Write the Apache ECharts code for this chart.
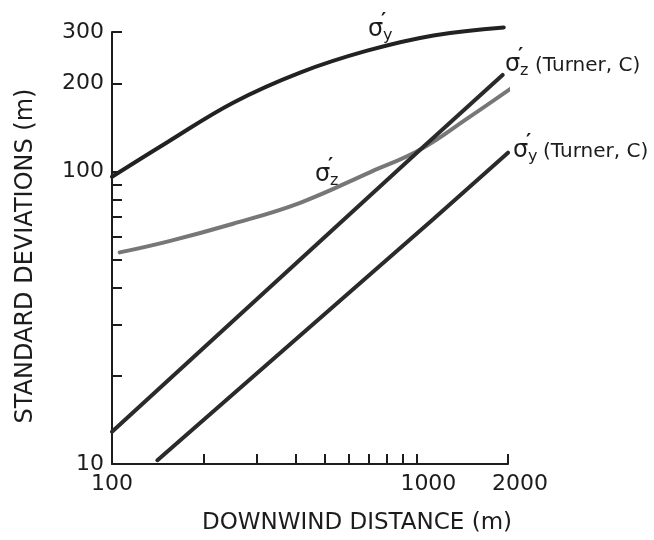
<!DOCTYPE html>
<html>
<head>
<meta charset="utf-8">
<script src="https://cdn.jsdelivr.net/npm/echarts@6/dist/echarts.min.js"></script>
<style>
  html, body { margin: 0; padding: 0; background: #fff; }
  #main { width: 654px; height: 540px; }
</style>
</head>
<body>
<div id="main"></div>
<script>
// sigma'y (upper curve)
const sigYx = [100, 152, 250, 415, 689, 1138, 1937];
const sigYy = [96, 126, 172, 218, 259, 292, 311];
// sigma'z (curve starting near 50)
const sigZx = [106, 152, 250, 415, 706, 1031, 1472, 2069];
const sigZy = [52.9, 57.6, 66.3, 78.2, 99.6, 119, 152, 194];
// sigma'z (Turner, C)
const turnZx = [100, 1031, 1920];
const turnZy = [12.9, 119, 214];
// sigma'y (Turner, C)
const turnYx = [141, 1138, 2000];
const turnYy = [10.3, 68.8, 116];

const xLabelVals = [100, 1000, 2000];
const xTickVals = [200, 300, 400, 500, 600, 700, 800, 900, 1000, 2000];
const yLabelVals = [10, 100, 200, 300];
const yTickVals = [20, 30, 40, 50, 60, 70, 80, 90, 100, 200, 300];

const ink = '#1c1c1c';
const font = 'DejaVu Sans';

function pairs(xs, ys) {
  return xs.map((x, i) => [x, ys[i]]);
}

// sigma with prime and subscript, optional tail text
function sigmaText(left, mid, sub, tail) {
  const kids = [
    { type: 'text', x: 0, y: 0, style: { text: 'σ', fontSize: 24, fontFamily: font, fill: ink, align: 'left', verticalAlign: 'middle' } },
    { type: 'text', x: 13, y: -9, style: { text: '′', fontSize: 20, fontWeight: 'bold', fontFamily: font, fill: ink, align: 'left', verticalAlign: 'middle' } },
    { type: 'text', x: 15, y: 6, style: { text: sub, fontSize: 16, fontFamily: font, fill: ink, align: 'left', verticalAlign: 'middle' } }
  ];
  if (tail) {
    kids.push({ type: 'text', x: 30, y: 1, style: { text: tail, fontSize: 20, fontFamily: font, fill: ink, align: 'left', verticalAlign: 'middle' } });
  }
  return { type: 'group', x: left, y: mid, children: kids };
}

const myChart = echarts.init(document.getElementById('main'));

const lineBase = {
  type: 'line',
  symbol: 'none',
  clip: false,
  silent: true
};

const option = {
  backgroundColor: '#fff',
  animation: false,
  grid: { left: 112, right: 146, top: 32, bottom: 73 },
  xAxis: {
    type: 'log',
    logBase: 10,
    min: 100,
    max: 2000,
    name: 'DOWNWIND DISTANCE (m)',
    nameLocation: 'middle',
    nameGap: 48,
    nameTextStyle: { fontSize: 23, fontFamily: font, color: ink, padding: [0, 0, 0, 94] },
    axisLine: { lineStyle: { color: ink, width: 2 } },
    axisTick: { inside: true, length: 10, customValues: xTickVals, lineStyle: { color: ink, width: 2 } },
    minorTick: { show: false },
    axisLabel: {
      customValues: xLabelVals,
      fontSize: 22,
      fontFamily: font,
      color: ink,
      margin: 9,
      formatter: v => (v === 100 ? '100' : '{r|' + v + '}'),
      rich: { r: { fontSize: 22, fontFamily: font, color: ink, padding: [0, 0, 0, 24] } }
    },
    splitLine: { show: false }
  },
  yAxis: {
    type: 'log',
    logBase: 10,
    min: 10,
    max: 300,
    name: 'STANDARD DEVIATIONS (m)',
    nameLocation: 'middle',
    nameGap: 74,
    nameTextStyle: { fontSize: 24, fontFamily: font, color: ink, padding: [0, 16, 0, 0] },
    axisLine: { lineStyle: { color: ink, width: 2 } },
    axisTick: { inside: true, length: 10, customValues: yTickVals, lineStyle: { color: ink, width: 2 } },
    axisLabel: { customValues: yLabelVals, fontSize: 22, fontFamily: font, color: ink, margin: 8 },
    splitLine: { show: false }
  },
  graphic: [
    sigmaText(368, 30, 'y'),
    sigmaText(315, 175, 'z'),
    sigmaText(505, 65, 'z', '(Turner, C)'),
    sigmaText(513, 151, 'y', '(Turner, C)')
  ],
  series: [
    Object.assign({}, lineBase, { name: "σ'y", smooth: 0.4, data: pairs(sigYx, sigYy), lineStyle: { color: '#222', width: 4, cap: 'round' } }),
    Object.assign({}, lineBase, { name: "σ'z", smooth: 0.4, data: pairs(sigZx, sigZy), lineStyle: { color: '#777', width: 4, cap: 'round' } }),
    Object.assign({}, lineBase, { name: "σ'z (Turner, C)", data: pairs(turnZx, turnZy), lineStyle: { color: '#2a2a2a', width: 4, cap: 'round' } }),
    Object.assign({}, lineBase, { name: "σ'y (Turner, C)", data: pairs(turnYx, turnYy), lineStyle: { color: '#2a2a2a', width: 4, cap: 'round' } })
  ]
};

option && myChart.setOption(option);
</script>
</body>
</html>
